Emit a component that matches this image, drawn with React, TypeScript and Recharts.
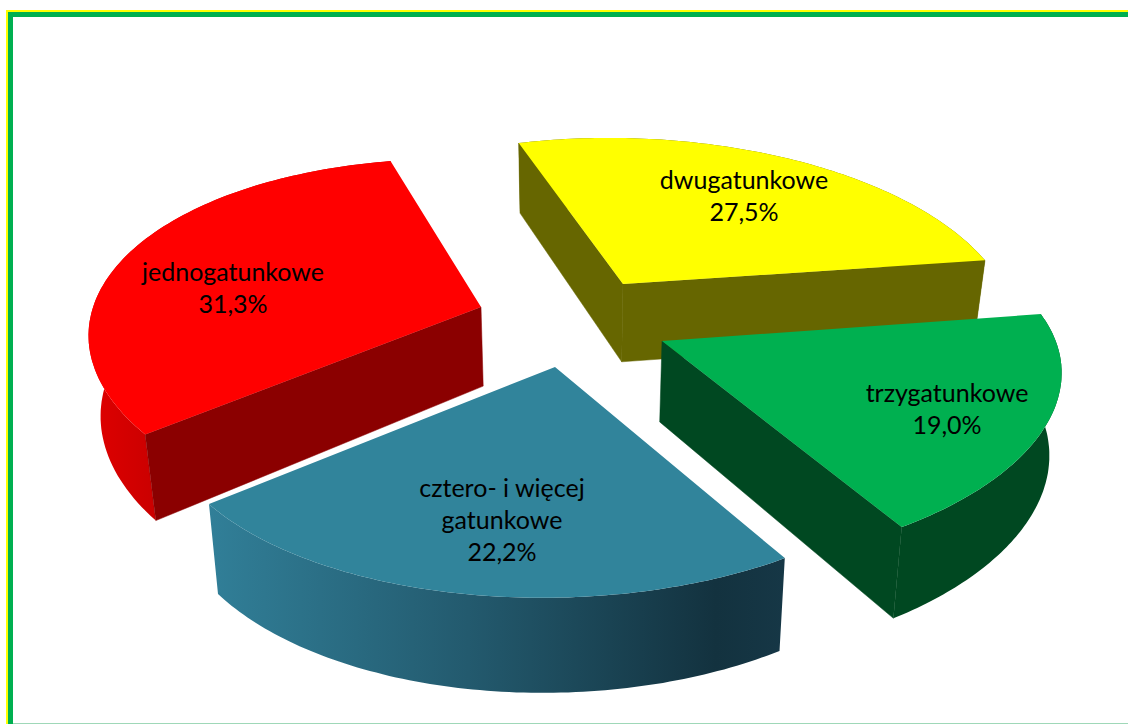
import React from "react";
import { PieChart, Pie } from "recharts";

const categories = ["dwugatunkowe", "jednogatunkowe", "cztero- i więcej\ngatunkowe", "trzygatunkowe"];
const shares = [27.5, 31.3, 22.2, 19.0];

const topColors = ["#ffff00", "#ff0000", "#31849b", "#00b050"];
const radialWallColors = ["#666600", "#8b0000", "#1f5568", "#004821"];
const arcWallFills = ["#666600", "url(#redWall)", "url(#blueWall)", "#004821"];

// Screen offsets of each exploded slice's apex from the pie centre.
const explodeX = [53, -89, -15, 92];
const explodeY = [-41, -18, 42, 16];
// Small per-slice view correction for the 3-D projection.
const viewAffine = [
  [0.989, 0.07, 0.005, 0.99],
  [0.975, -0.018, 0.027, 1.01],
  [0.997, -0.038, -0.005, 1.0],
  [1.028, -0.025, -0.005, 0.974],
];
const arcBulge = [0, 0.028, 0, -0.012];
// Label centre offsets from each slice's apex.
const labelDX = [121, -248, -53, 285];
const labelDY = [-87, -18, 154, 69];

const W = 1128;
const H = 724;
const CX = 570;
const CY = 325;
const RADIUS = 384;
const DEPTH_B = 180;
const PERSPECTIVE = 0.22;
const RAD = Math.PI / 180;

type P = [number, number];

const project = (ax: number, ay: number, deg: number, r: number, m: number[]): P => {
  const u = r * Math.cos(deg * RAD);
  const v = r * Math.sin(deg * RAD);
  const s = 1 / (1 + PERSPECTIVE * v);
  const dx = RADIUS * u * s;
  const dy = -DEPTH_B * v * s;
  return [ax + m[0] * dx + m[1] * dy, ay + m[2] * dx + m[3] * dy];
};
const lower = ([x, y]: P): P => [CX + (x - CX) * 0.975, y + 70 + (y - 142) * 0.055];
const toPath = (pts: P[]) => "M" + pts.map((p) => `${p[0].toFixed(1)},${p[1].toFixed(1)}`).join("L") + "Z";

const Slice = (props: any) => {
  const { cx, cy, startAngle, endAngle, index } = props;
  const ax = cx + explodeX[index];
  const ay = cy + explodeY[index];
  const apex: P = [ax, ay];
  const lo = Math.min(startAngle, endAngle);
  const hi = Math.max(startAngle, endAngle);
  const arc: P[] = [];
  const steps = 90;
  for (let i = 0; i <= steps; i++) {
    const t = i / steps;
    const r = 1 + arcBulge[index] * Math.sin(Math.PI * t);
    arc.push(project(ax, ay, lo + (hi - lo) * t, r, viewAffine[index]));
  }
  const first = arc[0];
  const last = arc[arc.length - 1];
  const arcWall = [...arc, ...arc.map(lower).reverse()];
  const startWall = [apex, first, lower(first), lower(apex)];
  const endWall = [apex, last, lower(last), lower(apex)];
  const wall = radialWallColors[index];
  const showStart = Math.cos(lo * RAD) > 0;
  const showEnd = Math.cos(hi * RAD) < 0;
  return (
    <g>
      <path d={toPath(arcWall)} fill={arcWallFills[index]} />
      {showStart && <path d={toPath(startWall)} fill={wall} stroke={wall} strokeWidth={0.5} />}
      {showEnd && <path d={toPath(endWall)} fill={wall} stroke={wall} strokeWidth={0.5} />}
      <path d={toPath([apex, ...arc])} fill={topColors[index]} />
    </g>
  );
};

const sliceLabel = (props: any) => {
  const { cx, cy, index, name, value } = props;
  const x = cx + explodeX[index] + labelDX[index];
  const lines: string[] = [...String(name).split("\n"), `${Number(value).toFixed(1).replace(".", ",")}%`];
  const lh = 32;
  const y0 = cy + explodeY[index] + labelDY[index] - ((lines.length - 1) * lh) / 2;
  return (
    <text x={x} textAnchor="middle" fontFamily="Lato" fontSize={25} fill="#000">
      {lines.map((l, i) => (
        <tspan key={i} x={x} y={y0 + i * lh + 8}>
          {l}
        </tspan>
      ))}
    </text>
  );
};

const data = categories.map((name, i) => ({ name, value: shares[i] }));

export default function App() {
  return (
    <div style={{ position: "absolute", left: 0, top: 0, width: W, height: H, overflow: "hidden", background: "#fff" }}>
      <div style={{ position: "absolute", left: 6, top: 10, right: 0, height: 2, background: "#ffff00" }} />
      <div style={{ position: "absolute", left: 6, top: 10, bottom: 0, width: 2, background: "#ffff00" }} />
      <div style={{ position: "absolute", left: 7.5, top: 11.5, right: 0, height: 5.5, background: "#00b050" }} />
      <div style={{ position: "absolute", left: 7.5, top: 11.5, bottom: 0, width: 5.5, background: "#00b050" }} />
      <div style={{ position: "absolute", left: 13, bottom: 0, right: 0, height: 1.5, background: "#9fd8b8" }} />
      <PieChart width={W} height={H} margin={{ top: 0, right: 0, bottom: 0, left: 0 }} style={{ position: "absolute", left: 0, top: 0 }}>
        <defs>
          <linearGradient id="blueWall" x1="0" y1="0" x2="1" y2="0">
            <stop offset="0" stopColor="#317f98" />
            <stop offset="0.45" stopColor="#235a6e" />
            <stop offset="0.88" stopColor="#13323f" />
            <stop offset="1" stopColor="#163746" />
          </linearGradient>
          <linearGradient id="redWall" x1="0" y1="0" x2="1" y2="0">
            <stop offset="0" stopColor="#e00000" />
            <stop offset="0.2" stopColor="#cc0000" />
            <stop offset="1" stopColor="#cc0000" />
          </linearGradient>
        </defs>
        <Pie
          data={data}
          dataKey="value"
          nameKey="name"
          cx={CX}
          cy={CY}
          innerRadius={0}
          outerRadius={RADIUS}
          startAngle={8.5}
          endAngle={368.5}
          stroke="none"
          isAnimationActive={false}
          labelLine={false}
          label={sliceLabel}
          shape={Slice}
          inactiveShape={Slice}
          activeShape={Slice}
        />
      </PieChart>
    </div>
  );
}
